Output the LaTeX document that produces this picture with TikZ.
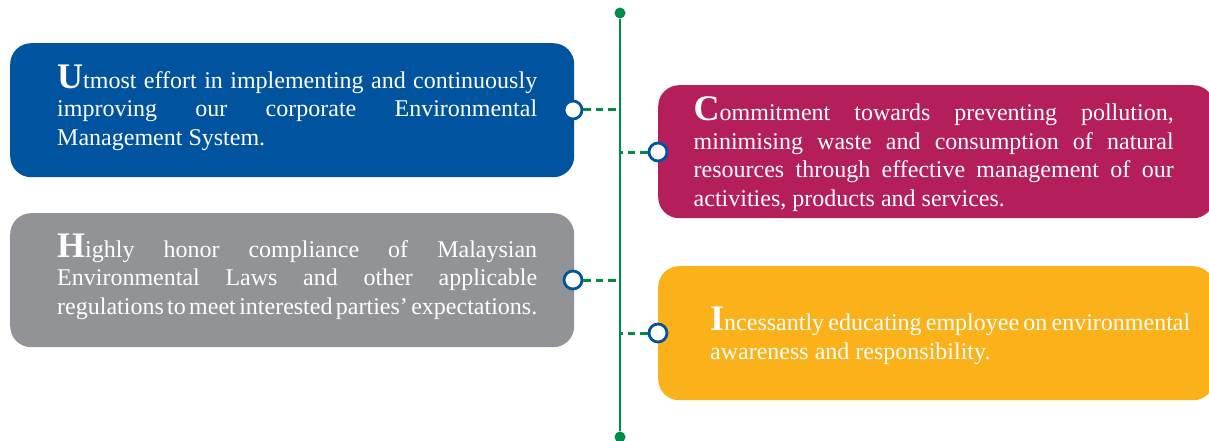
\documentclass[tikz,border=0pt]{standalone}
\usepackage{fontspec}
\setmainfont{Liberation Serif}
\definecolor{cblue}{RGB}{0,84,159}
\definecolor{cmag}{RGB}{180,31,91}
\definecolor{cgray}{RGB}{146,147,151}
\definecolor{cyel}{RGB}{251,178,26}
\definecolor{cgreen}{RGB}{0,140,70}
\newcommand\Initial[1]{{\bfseries\fontsize{36}{36}\selectfont #1}}
\newcommand\JLine[1]{\makebox[480pt][s]{\spaceskip=0pt plus 1fil\relax #1}\\}
\newcommand\Para[1]{\parbox[t]{480pt}{\fontsize{24}{28.6}\selectfont\frenchspacing #1}}
\tikzset{
  panel/.style={rounded corners=21pt, draw=none, minimum height=134pt, anchor=north west, inner sep=0pt},
  ptext/.style={anchor=base west, inner sep=0pt, text=white},
  knob/.style={circle, draw=cblue, line width=2.8pt, fill=white, minimum size=18pt, inner sep=0pt},
  enddot/.style={circle, fill=cgreen, minimum size=11pt, inner sep=0pt},
  spine/.style={draw=cgreen, line width=2.7pt},
  link/.style={draw=cgreen, line width=3pt, dash pattern=on 7.5pt off 5pt}
}
\begin{document}
\begin{tikzpicture}[x=1pt,y=-1pt]
\useasboundingbox (0,0) rectangle (1209,441);
\clip (0,0) rectangle (1209,441);
% panels
\node[panel, fill=cblue, minimum width=564pt] (b1) at (10,43) {};
\node[panel, fill=cgray, minimum width=564pt] (b3) at (10,213) {};
\node[panel, fill=cmag, minimum width=556pt, minimum height=133pt] (b2) at (658,85) {};
\node[panel, fill=cyel, minimum width=556pt] (b4) at (658,266) {};
% texts
\node[ptext] (t1) at (57,88.3) {\Para{%
\JLine{\Initial{U}tmost effort in implementing and continuously}
\JLine{improving our corporate Environmental}
Management System.}};
\node[ptext] (t3) at (57,257.3) {\Para{%
\JLine{\Initial{H}ighly honor compliance of Malaysian}
\JLine{Environmental Laws and other applicable}
\makebox[480pt][s]{\spaceskip=0pt plus 1fil\relax regulations to meet interested parties’ expectations.}}};
\node[ptext] (t2) at (693.5,120.5) {\Para{%
\JLine{\Initial{C}ommitment towards preventing pollution,}
\JLine{minimising waste and consumption of natural}
\JLine{resources through effective management of our}
activities, products and services.}};
\node[ptext] (t4) at (710,330.7) {\Para{%
\JLine{\Initial{I}ncessantly educating employee on environmental}
awareness and responsibility.}};
% spine
\node[enddot] (top) at (620,13) {};
\node[enddot] (bot) at (620,437) {};
\draw[spine] (top) -- (bot);
% junctions
\coordinate (j1) at (620,110);
\coordinate (j2) at (620,152);
\coordinate (j3) at (620,280);
\coordinate (j4) at (620,333);
% knobs
\node[knob] (k1) at (573,110) {};
\node[knob] (k2) at (658,152) {};
\node[knob] (k3) at (573,280) {};
\node[knob] (k4) at (658,333) {};
\draw[link] (k1) -- (j1);
\draw[link] (k2) -- (j2);
\draw[link] (k3) -- (j3);
\draw[link] (k4) -- (j4);
\end{tikzpicture}
\end{document}
